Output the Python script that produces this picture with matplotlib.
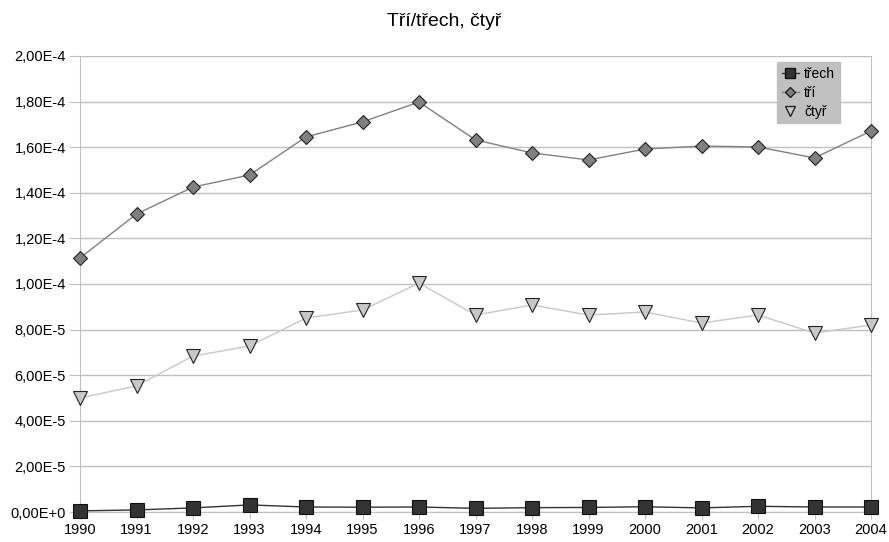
import matplotlib
matplotlib.use("Agg")
import matplotlib.pyplot as plt
from matplotlib.lines import Line2D

years = list(range(1990, 2005))
trech = [0.5e-6, 0.9e-6, 1.8e-6, 3.1e-6, 2.2e-6, 2.1e-6, 2.2e-6, 1.6e-6, 1.9e-6, 2.0e-6, 2.3e-6, 1.8e-6, 2.5e-6, 2.2e-6, 2.2e-6]
tri = [1.114e-4, 1.307e-4, 1.425e-4, 1.478e-4, 1.645e-4, 1.711e-4, 1.798e-4, 1.632e-4, 1.575e-4, 1.544e-4, 1.592e-4, 1.605e-4, 1.601e-4, 1.553e-4, 1.671e-4]
ctyr = [5.0e-5, 5.53e-5, 6.84e-5, 7.28e-5, 8.51e-5, 8.86e-5, 1.004e-4, 8.64e-5, 9.08e-5, 8.64e-5, 8.77e-5, 8.29e-5, 8.64e-5, 7.85e-5, 8.2e-5]
ytick_vals = [0, 2e-5, 4e-5, 6e-5, 8e-5, 1e-4, 1.2e-4, 1.4e-4, 1.6e-4, 1.8e-4, 2e-4]
ytick_labels = ["0,00E+0", "2,00E-5", "4,00E-5", "6,00E-5", "8,00E-5", "1,00E-4",
                "1,20E-4", "1,40E-4", "1,60E-4", "1,80E-4", "2,00E-4"]

plt.rcParams['font.family'] = ['Liberation Sans', 'DejaVu Sans']

fig = plt.figure(figsize=(8.89, 5.42), dpi=100)
ax = fig.add_axes([80/889, 1-512/542, (871-80)/889, (512-56)/542])

ax.plot(years, ctyr, color='#c8c8c8', lw=1, marker='v', ms=9.5,
        mfc='#c8c8c8', mec='#222222', mew=0.8, zorder=3, clip_on=False)
ax.plot(years, tri, color='#808080', lw=1, marker='D', ms=7.5,
        mfc='#808080', mec='#222222', mew=0.8, zorder=4, clip_on=False)
ax.plot(years, trech, color='#333333', lw=1, marker='s', ms=9.5,
        mfc='#333333', mec='#111111', mew=0.8, zorder=5, clip_on=False)

ax.set_xlim(1990, 2004)
ax.set_ylim(0, 2e-4)
ax.set_xticks(years)
ax.set_xticklabels([str(y) for y in years], fontsize=10.5)
ax.set_yticks(ytick_vals)
ax.set_yticklabels(ytick_labels, fontsize=10.5)
ax.grid(axis='y', color='#c0c0c0', lw=1)
ax.set_axisbelow(True)
for s in ['left', 'right', 'bottom']:
    ax.spines[s].set_color('#c0c0c0')
ax.spines['top'].set_visible(False)
ax.tick_params(axis='y', length=8, color='#c0c0c0', pad=2)
ax.tick_params(axis='x', length=5, color='#c0c0c0', pad=3)

fig.text(0.5, 1-22/542, 'Tří/třech, čtyř', fontsize=14, ha='center', va='center')

handles = [
    Line2D([0], [0], color='#333333', lw=1, marker='s', ms=6.5, mfc='#333333', mec='#111111'),
    Line2D([0], [0], color='#808080', lw=1, marker='D', ms=5, mfc='#808080', mec='#222222'),
    Line2D([0], [0], color='none', lw=0, marker='v', ms=7, mfc='#c8c8c8', mec='#222222'),
]
leg = ax.legend(handles, ['třech', 'tří', 'čtyř'], loc='upper left',
                bbox_to_anchor=((777-80)/791, 1-(62-56)/456), fontsize=10,
                frameon=True, fancybox=False, handlelength=1.2, handletextpad=0.4,
                borderpad=0.35, labelspacing=0.35, borderaxespad=0)
leg.get_frame().set_facecolor('#c0c0c0')
leg.get_frame().set_edgecolor('#c0c0c0')
leg.get_frame().set_alpha(1)

fig.savefig('out.png', dpi=100)
